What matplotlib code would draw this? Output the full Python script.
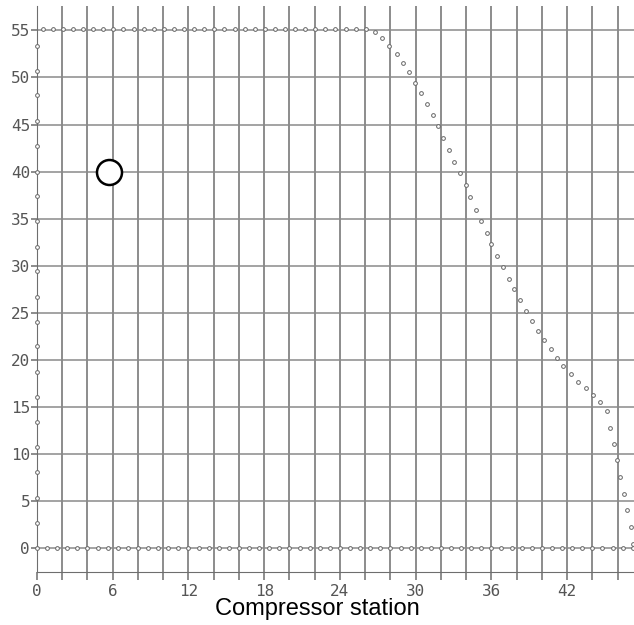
import matplotlib
matplotlib.use('Agg')
import matplotlib.pyplot as plt
from matplotlib.ticker import MultipleLocator, FixedLocator

# points
bottom_x = [0.0, 0.8, 1.6, 2.4, 3.2, 4.0, 4.8, 5.6, 6.4, 7.2, 8.0, 8.8, 9.6, 10.4, 11.2,
            12.0, 12.8, 13.6, 14.4, 15.2, 16.0, 16.8, 17.6, 18.4, 19.2, 20.0, 20.8, 21.6,
            22.4, 23.2, 24.0, 24.8, 25.6, 26.4, 27.2, 28.0, 28.8, 29.6, 30.4, 31.2, 32.0,
            32.8, 33.6, 34.4, 35.2, 36.0, 36.8, 37.6, 38.4, 39.2, 40.0, 40.8, 41.6, 42.4,
            43.2, 44.0, 44.8, 45.6, 46.4, 47.2]
bottom_y = [0.0] * len(bottom_x)

left_y = [2.67, 5.34, 8.0, 10.7, 13.4, 16.0, 18.7, 21.4, 24.0, 26.7, 29.4, 32.0, 34.7,
          37.4, 40.0, 42.7, 45.4, 48.1, 50.7, 53.4]
left_x = [0.0] * len(left_y)

top_x = [0.45, 1.25, 2.05, 2.85, 3.65, 4.45, 5.25, 6.05, 6.85, 7.65, 8.45, 9.25, 10.05,
         10.85, 11.65, 12.45, 13.25, 14.05, 14.85, 15.65, 16.45, 17.25, 18.05, 18.85,
         19.65, 20.45, 21.25, 22.05, 22.85, 23.65, 24.45, 25.25, 26.05]
top_y = [55.2] * len(top_x)

curve_x = [26.75, 27.37, 27.92, 28.53, 28.98, 29.51, 29.98, 30.44, 30.88, 31.36, 31.81,
           32.18, 32.63, 33.02, 33.48, 33.95, 34.33, 34.77, 35.17, 35.62, 35.99, 36.47,
           36.91, 37.37, 37.76, 38.28, 38.74, 39.19, 39.67, 40.20, 40.72, 41.20, 41.71,
           42.34, 42.87, 43.48, 44.03, 44.61, 45.16, 45.38, 45.68, 45.99, 46.21, 46.53,
           46.75, 47.05, 47.25]
curve_y = [54.85, 54.21, 53.40, 52.48, 51.56, 50.57, 49.40, 48.31, 47.18, 45.97, 44.84,
           43.52, 42.28, 41.06, 39.84, 38.53, 37.29, 35.94, 34.74, 33.50, 32.26, 31.02,
           29.82, 28.61, 27.48, 26.35, 25.21, 24.12, 23.09, 22.07, 21.14, 20.15, 19.33,
           18.49, 17.67, 16.97, 16.25, 15.51, 14.52, 12.75, 11.05, 9.32, 7.54, 5.74,
           4.04, 2.20, 0.42]

marker_x = [5.73]
marker_y = [40.0]

x_labels = [0, 6, 12, 18, 24, 30, 36, 42]

fig = plt.figure(figsize=(6.34, 6.25), dpi=100)
ax = fig.add_axes([37 / 634, 1 - 572 / 625, 597 / 634, 566 / 625])

ax.set_xlim(0, 47.3)
ax.set_ylim(-2.58, 57.6)

grid_c = '#6e6e6e'
for x in range(0, 47, 2):
    ax.axvline(x, color=grid_c, lw=1.1, zorder=1)
for y in range(0, 56, 5):
    ax.axhline(y, color='#8a8a8a', lw=1.1, zorder=1)

mk = dict(ls='none', marker='o', ms=2.7, mfc='white', mec='#666666', mew=0.7, zorder=3,
          clip_on=False)
ax.plot(bottom_x, bottom_y, **mk)
ax.plot(left_x, left_y, **mk)
ax.plot(top_x, top_y, **mk)
ax.plot(curve_x, curve_y, **mk)

ax.plot(marker_x, marker_y, ls='none', marker='o', ms=18, mfc='white', mec='black',
        mew=1.8, zorder=4)

for s in ['top', 'right']:
    ax.spines[s].set_visible(False)
ax.spines['left'].set_color(grid_c)
ax.spines['bottom'].set_color(grid_c)

ax.xaxis.set_major_locator(FixedLocator(x_labels))
ax.xaxis.set_minor_locator(MultipleLocator(2))
ax.set_yticks(range(0, 56, 5))
ax.tick_params(axis='x', which='both', length=6, color=grid_c, width=1.1, pad=3)
ax.tick_params(axis='y', length=4, color=grid_c, width=1.1, pad=1)
ax.tick_params(labelsize=11.5, labelcolor='#555555')
for lab in ax.get_xticklabels() + ax.get_yticklabels():
    lab.set_family('DejaVu Sans Mono')

fig.text(0.5, 1 - 609 / 625, 'Compressor station', ha='center', va='center',
         fontsize=17, family='Liberation Sans', color='black')

fig.savefig('out.png', dpi=100)
